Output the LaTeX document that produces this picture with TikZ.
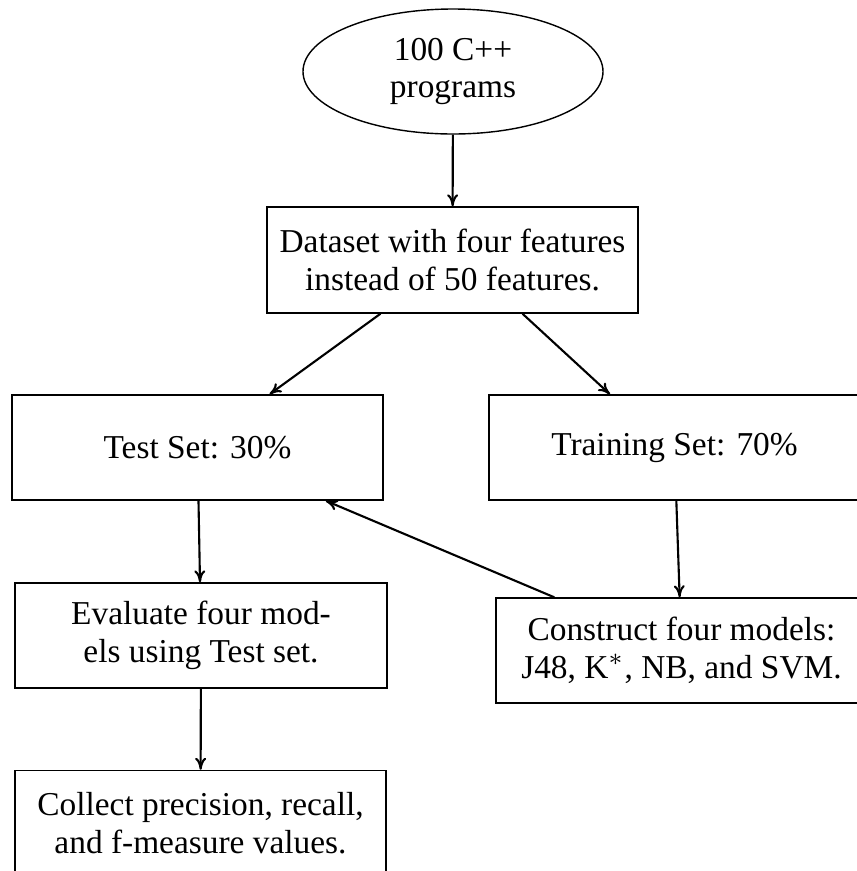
\documentclass[tikz,border=0pt]{standalone}
\usepackage{fontspec}
\setmainfont{Liberation Serif}
\nonfrenchspacing
\usetikzlibrary{shapes.geometric,arrows.meta}
\begin{document}
\begin{tikzpicture}[
    >={To[length=1.2mm,width=1.1mm]},
    every node/.style={font=\fontsize{9.5pt}{10.8pt}\selectfont, align=center},
    stage/.style={draw, rectangle, minimum width=3.71cm, minimum height=1.05cm, inner sep=0pt},
    source/.style={draw, ellipse, minimum width=3.0cm, minimum height=1.25cm, inner sep=0pt}
  ]
  \useasboundingbox (0,0) rectangle (8.56,-8.71);
  \draw
    (4.53,-0.715) node[source] (progs){100 C++\\programs}
    (4.525,-2.60) node[stage, minimum height=1.06cm] (data){Dataset with four features\\instead of 50 features.}
    (1.975,-4.475) node[stage] (test){Test Set: 30\%}
    (6.745,-4.475) node[stage] (train){Training Set: 70\%}
    (2.01,-6.355) node[stage, minimum width=3.72cm] (eval){Evaluate four mod-\\els using Test set.}
    (6.815,-6.505) node[stage] (cons){Construct four models:\\J48, K$^*$, NB, and SVM.}
    (2.005,-8.23) node[stage] (coll){Collect precision, recall,\\and f-measure values.};
  \begin{scope}[->, line width=0.6pt]
    \draw (progs) to (data);
    \draw ([xshift=-0.72cm]data.south) to ([xshift=0.72cm]test.north);
    \draw ([xshift=0.70cm]data.south) to ([xshift=-0.645cm]train.north);
    \draw (test) to (eval);
    \draw (train) to (cons);
    \draw ([xshift=0.59cm]cons.north west) to ([xshift=-0.58cm]test.south east);
    \draw (eval) to (coll);
  \end{scope}
\end{tikzpicture}
\end{document}
